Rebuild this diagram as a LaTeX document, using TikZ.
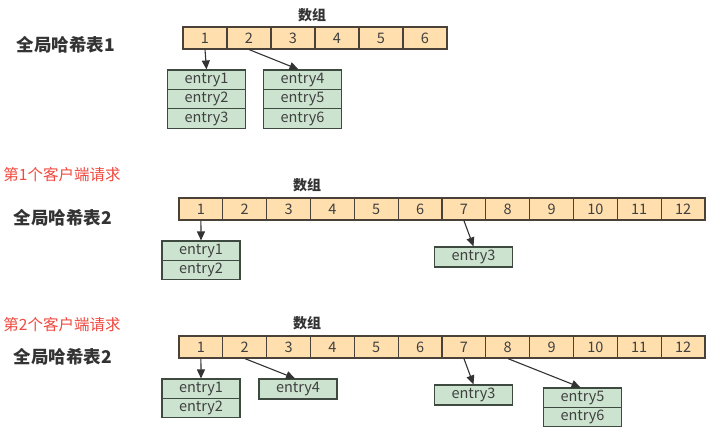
\documentclass[tikz,border=0pt]{standalone}
\usepackage{fontspec}
\setmainfont{Noto Sans CJK SC}
\usepackage{xcolor}
\usepackage{tikz}
\usetikzlibrary{arrows.meta}

\definecolor{cellfill}{HTML}{FFDFAE}
\definecolor{cellline}{HTML}{4A4238}
\definecolor{entfill}{HTML}{CCE4CF}
\definecolor{entline}{HTML}{3E4A40}
\definecolor{reqred}{HTML}{F0483E}

\tikzset{
  cell/.style={draw=cellline, fill=cellfill, line width=1.1pt, minimum width=43.8pt, minimum height=22pt, inner sep=0pt, text=black!75, font=\fontsize{14.5}{14.5}\selectfont},
  entry/.style={draw=entline, fill=entfill, line width=1.1pt, minimum width=78pt, minimum height=19.4pt, inner sep=0pt, text=black!75, font=\fontsize{14.5}{14.5}\selectfont},
  title/.style={font=\fontsize{17.5}{17.5}\selectfont\bfseries, text=black!80},
  arrlabel/.style={font=\fontsize{14}{14}\selectfont\bfseries, text=black!80},
  req/.style={font=\fontsize{15.5}{15.5}\selectfont, text=reqred},
  link/.style={draw=black!80, line width=1.1pt, -{Triangle[length=9pt,width=8pt]}}
}

\begin{document}
\begin{tikzpicture}[x=1pt,y=-1pt]
  \useasboundingbox (0,0) rectangle (726,435);

  % Table 1
  \node[title] (t1) at (66,45) {全局哈希表1};
  \node[arrlabel] (l1) at (312,15) {数组};
  \foreach \i in {1,...,6}
    \node[cell, minimum width=44pt] (a\i) at ({161+44*\i},38) {\i};
  \node[entry] (e1) at (206.5,79.7) {entry1};
  \node[entry] (e2) at (206.5,99.1) {entry2};
  \node[entry] (e3) at (206.5,118.5) {entry3};
  \node[entry] (e4) at (302.5,79.7) {entry4};
  \node[entry] (e5) at (302.5,99.1) {entry5};
  \node[entry] (e6) at (302.5,118.5) {entry6};
  \draw[link] (a1.south) -- (e1.north);
  \draw[link] (a2.south) -- ([xshift=-4pt]e4.north);

  % Table 2, first request
  \node[req] (r1) at (62,175) {第1个客户端请求};
  \node[title] (t2) at (63,218) {全局哈希表2};
  \node[arrlabel] (l2) at (307,185) {数组};
  \foreach \i in {1,...,12}
    \node[cell] (b\i) at ({179+43.83*\i-21.9},209) {\i};
  \node[entry] (f1) at (201,250.7) {entry1};
  \node[entry] (f2) at (201,270.1) {entry2};
  \node[entry, minimum height=20pt] (f3) at (473.5,257) {entry3};
  \draw[link] (b1.south) -- (f1.north);
  \draw[link] (b7.south) -- (f3.north);

  % Table 2, second request
  \node[req] (r2) at (62,325) {第2个客户端请求};
  \node[title] (t3) at (63,357) {全局哈希表2};
  \node[arrlabel] (l3) at (307,323) {数组};
  \foreach \i in {1,...,12}
    \node[cell] (c\i) at ({179+43.83*\i-21.9},347) {\i};
  \node[entry] (g1) at (201,388.7) {entry1};
  \node[entry] (g2) at (201,408.1) {entry2};
  \node[entry, minimum height=20pt] (g4) at (298,389) {entry4};
  \node[entry, minimum height=20pt] (g3) at (473.5,395) {entry3};
  \node[entry] (g5) at (582.5,397.7) {entry5};
  \node[entry] (g6) at (582.5,417.1) {entry6};
  \draw[link] (c1.south) -- (g1.north);
  \draw[link] (c2.south) -- ([xshift=-3pt]g4.north);
  \draw[link] (c7.south) -- (g3.north);
  \draw[link] (c8.south) -- ([xshift=-2pt]g5.north);
\end{tikzpicture}
\end{document}
